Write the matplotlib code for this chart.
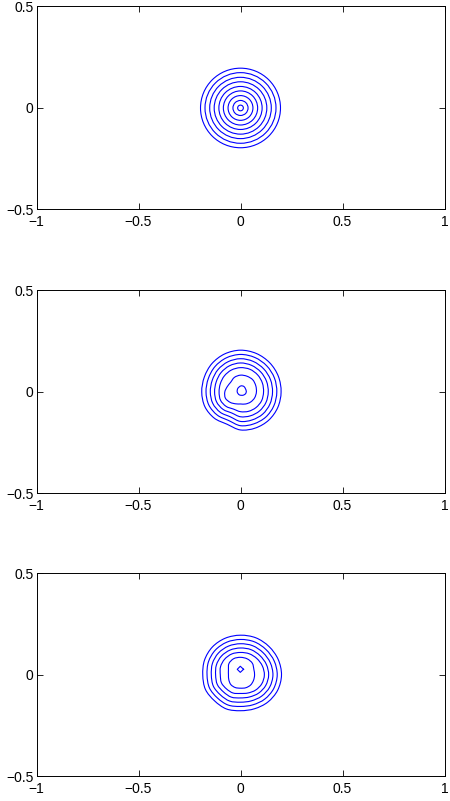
import numpy as np
import matplotlib
matplotlib.use('Agg')
import matplotlib.pyplot as plt
from matplotlib.path import Path
from matplotlib.patches import PathPatch, Circle

plt.rcParams['font.family'] = ['Liberation Sans', 'DejaVu Sans']

# tick labels
x_ticks = [-1, -0.5, 0, 0.5, 1]
y_ticks = [-0.5, 0, 0.5]

# panel 1: concentric circle contours (radii)
radii_1 = [0.196, 0.174, 0.151, 0.129, 0.106, 0.084, 0.061, 0.037, 0.014]

# panels 2, 3: contour radius (from origin) at these angles, degrees
angles = [0, 22.5, 45, 67.5, 90, 112.5, 135, 157.5,
          180, 202.5, 225, 247.5, 270, 292.5, 315, 337.5]

contours_2 = [
    [.199, .201, .203, .205, .206, .203, .198, .192, .190, .189, .182, .172, .187, .192, .196, .198],
    [.178, .180, .182, .184, .185, .182, .177, .171, .169, .168, .161, .152, .166, .170, .175, .177],
    [.157, .159, .161, .163, .164, .161, .156, .150, .148, .147, .141, .132, .145, .149, .154, .156],
    [.136, .138, .140, .142, .143, .140, .135, .129, .127, .127, .121, .112, .122, .127, .132, .135],
    [.113, .116, .119, .121, .120, .117, .112, .107, .105, .106, .100, .091, .097, .103, .108, .112],
    [.078, .081, .085, .084, .083, .078, .068, .070, .077, .080, .072, .063, .059, .064, .070, .075],
]
# innermost loop of panel 2 (x, y)
peak_2_x = [0.028, 0.018, 0.002, -0.013, -0.016, -0.006, 0.012, 0.025]
peak_2_y = [0.006, 0.026, 0.030, 0.018, 0.000, -0.014, -0.016, -0.008]

contours_3 = [
    [.201, .200, .198, .198, .196, .196, .195, .191, .185, .186, .180, .181, .176, .180, .189, .197],
    [.180, .179, .177, .177, .175, .175, .174, .170, .164, .165, .160, .160, .155, .159, .168, .176],
    [.159, .158, .156, .156, .154, .154, .153, .149, .143, .144, .139, .139, .134, .138, .147, .155],
    [.138, .137, .135, .135, .133, .133, .132, .128, .122, .123, .118, .118, .113, .117, .126, .134],
    [.117, .116, .114, .113, .111, .112, .110, .106, .099, .101, .097, .096, .091, .096, .105, .113],
    [.069, .071, .082, .086, .087, .087, .080, .064, .059, .062, .067, .067, .065, .068, .070, .069],
]
# innermost diamond of panel 3 (x, y)
peak_3_x = [0.015, -0.001, -0.016, -0.001]
peak_3_y = [0.028, 0.043, 0.028, 0.013]


def smooth_closed(xs, ys):
    # closed Catmull-Rom curve through the read points
    pts = np.column_stack([xs, ys])
    n = len(pts)
    verts = [pts[0]]
    codes = [Path.MOVETO]
    for i in range(n):
        p0, p1, p2, p3 = pts[i - 1], pts[i], pts[(i + 1) % n], pts[(i + 2) % n]
        verts += [p1 + (p2 - p0) / 6, p2 - (p3 - p1) / 6, p2]
        codes += [Path.CURVE4] * 3
    return Path(verts, codes)


def draw_polar(ax, radii):
    t = np.deg2rad(angles)
    r = np.array(radii)
    ax.add_patch(PathPatch(smooth_closed(r * np.cos(t), r * np.sin(t)),
                           fill=False, edgecolor='blue', lw=0.8))


def style(ax):
    ax.set_xlim(-1, 1)
    ax.set_ylim(-0.5, 0.5)
    ax.set_xticks(x_ticks)
    ax.set_yticks(y_ticks)
    ax.set_xticklabels(['\u22121', '\u22120.5', '0', '0.5', '1'])
    ax.set_yticklabels(['\u22120.5', '0', '0.5'])
    ax.tick_params(direction='in', length=4, width=0.6, labelsize=10,
                   top=True, right=True)
    ax.tick_params(axis='x', pad=4)
    ax.tick_params(axis='y', pad=2)
    for s in ax.spines.values():
        s.set_linewidth(0.7)


fig = plt.figure(figsize=(4.5, 8.01), dpi=100)
left, width, height = 36.5 / 450, 408 / 450, 203 / 801
bottoms = [0.7385, 0.3839, 0.0306]
axes = [fig.add_axes([left, b, width, height]) for b in bottoms]

ax = axes[0]
for r in radii_1:
    ax.add_patch(Circle((0, 0), r, fill=False, edgecolor='blue', lw=0.8))
style(ax)

ax = axes[1]
for c in contours_2:
    draw_polar(ax, c)
ax.add_patch(PathPatch(smooth_closed(peak_2_x, peak_2_y), fill=False,
                       edgecolor='blue', lw=0.8))
style(ax)

ax = axes[2]
for c in contours_3:
    draw_polar(ax, c)
ax.plot(peak_3_x + peak_3_x[:1], peak_3_y + peak_3_y[:1], color='blue', lw=0.8)
style(ax)

fig.savefig('out.png', dpi=100)
